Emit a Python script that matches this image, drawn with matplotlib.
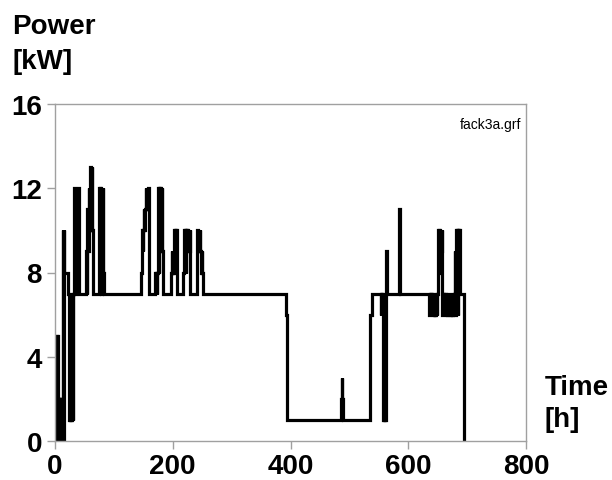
import matplotlib
matplotlib.use("Agg")
import matplotlib.pyplot as plt

# Change points of the stepped power series (hour, kW), step "post"
hours = [
    0, 2, 3, 4, 5, 6, 7, 8, 9, 10, 11, 12, 13, 14, 15, 16,
    22, 23, 24, 25, 26, 27, 28, 29, 30, 31,
    32, 33, 34, 35, 36, 37, 38, 39, 40,
    53, 54, 55, 56, 57, 58, 59, 60, 61, 62, 63, 64,
    75, 76, 77, 78, 79, 80, 81, 82, 83,
    146, 147, 148, 149, 150, 151, 152, 153, 154, 155, 156, 157, 158, 159,
    170, 171, 172, 173, 174, 175, 176, 177, 178, 179, 180, 181, 182, 183,
    197, 198, 199, 200, 201, 202, 203, 204, 205, 206, 207,
    218, 219, 220, 221, 222, 223, 224, 225, 226, 227, 228, 229, 230,
    242, 243, 244, 245, 246, 247, 248, 249, 250, 251,
    392, 394,
    486, 487, 488, 489,
    535, 538,
    553, 554, 555, 556, 557, 558, 559, 560, 561, 562, 564,
    585, 586,
    636, 637, 638, 639, 640, 641, 642, 643, 644, 645, 646, 647, 648, 649,
    651, 652, 653, 654, 655, 656, 657,
    658, 659, 660, 661, 662, 663, 664, 665, 666, 667,
    671, 672, 673, 674, 675, 676, 677, 678, 679, 680, 681, 682, 683, 684, 685, 686, 687, 688,
    695,
]
power = [
    0, 5, 0, 5, 2, 0, 2, 0, 2, 0, 2, 0, 10, 0, 10, 8,
    7, 6, 1, 5, 1, 6, 1, 7, 1, 7,
    8, 12, 7, 12, 8, 12, 9, 12, 7,
    9, 7, 11, 9, 12, 10, 12, 13, 10, 13, 10, 7,
    12, 7, 12, 7, 12, 8, 12, 8, 7,
    8, 9, 10, 9, 10, 11, 10, 11, 12, 11, 12, 11, 12, 7,
    8, 7, 8, 7, 8, 12, 8, 12, 9, 12, 9, 12, 9, 7,
    8, 9, 8, 9, 8, 10, 9, 10, 9, 10, 7,
    8, 10, 8, 10, 8, 10, 9, 10, 9, 10, 9, 10, 7,
    10, 9, 10, 9, 10, 9, 8, 9, 8, 7,
    6, 1,
    2, 3, 2, 1,
    6, 7,
    6, 7, 6, 7, 1, 6, 1, 6, 1, 9, 7,
    11, 7,
    6, 7, 6, 7, 6, 7, 6, 7, 6, 7, 6, 7, 6, 7,
    10, 9, 10, 8, 10, 9, 10,
    6, 7, 6, 7, 6, 7, 6, 7, 6, 7,
    6, 7, 6, 7, 6, 7, 6, 7, 9, 6, 10, 9, 10, 6, 10, 7, 10, 7,
    0,
]

x_ticks = [0, 200, 400, 600, 800]
y_ticks = [0, 4, 8, 12, 16]

plt.rcParams['font.family'] = ['Liberation Sans', 'DejaVu Sans']

fig = plt.figure(figsize=(6.12, 4.81), dpi=100)
ax = fig.add_axes([55 / 612, 39 / 481, 471 / 612, 337 / 481])

ax.step(hours, power, where='post', color='black', lw=2.3, solid_joinstyle='miter')

ax.set_xlim(0, 800)
ax.set_ylim(0, 16)
ax.set_xticks(x_ticks)
ax.set_yticks(y_ticks)
ax.set_xticklabels([str(t) for t in x_ticks], fontsize=20, fontweight='bold')
ax.set_yticklabels([str(t) for t in y_ticks], fontsize=20, fontweight='bold')

gray = '#a0a0a0'
for s in ax.spines.values():
    s.set_color(gray)
    s.set_linewidth(1.0)
ax.tick_params(axis='both', direction='out', length=5.8, width=1.0, color=gray)
ax.tick_params(axis='x', pad=3)
ax.tick_params(axis='y', pad=3.5)

ax.text(0.99, 0.96, 'fack3a.grf', transform=ax.transAxes, ha='right', va='top',
        fontsize=10)

fig.text(12 / 612, 1 - 14 / 481, 'Power', ha='left', va='top', fontsize=20, fontweight='bold')
fig.text(12 / 612, 1 - 49 / 481, '[kW]', ha='left', va='top', fontsize=20, fontweight='bold')
fig.text(545 / 612, 1 - 375 / 481, 'Time', ha='left', va='top', fontsize=20, fontweight='bold')
fig.text(545 / 612, 1 - 407 / 481, '[h]', ha='left', va='top', fontsize=20, fontweight='bold')

fig.savefig('out.png', dpi=100)
